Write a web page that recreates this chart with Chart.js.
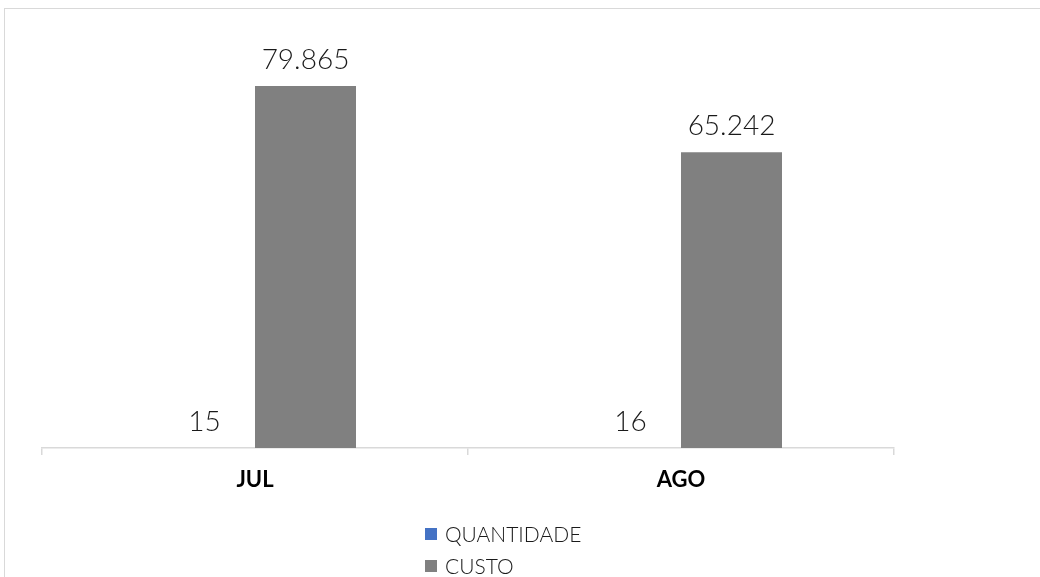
<!DOCTYPE html>
<html>
<head>
<meta charset="utf-8">
<script src="https://cdn.jsdelivr.net/npm/chart.js@4.4.1/dist/chart.umd.min.js"></script>
<style>
  html, body { margin: 0; padding: 0; width: 1040px; height: 577px; overflow: hidden; background: #fff; }
  #frame { position: absolute; left: 4px; top: 8px; width: 1100px; height: 700px; border: 1px solid #d9d9d9; box-sizing: border-box; }
  #wrap { position: absolute; left: 0; top: 0; width: 1040px; height: 577px; }
  #legend { position: absolute; left: 425px; top: 520px; font-family: Lato, sans-serif; font-weight: 300; font-size: 21px; color: #1a1a1a; }
  .item { position: relative; height: 32px; line-height: 28px; padding-left: 20px; white-space: nowrap; }
  .sw { position: absolute; left: 0; top: 8px; width: 12px; height: 12px; }
</style>
</head>
<body>
<div id="frame"></div>
<div id="wrap"><canvas id="c" width="1040" height="577"></canvas></div>
<div id="legend"></div>
<script>
const categories = ['JUL', 'AGO'];
const seriesNames = ['QUANTIDADE', 'CUSTO'];
const quantidade = [15, 16];
const custo = [79865, 65242];
const seriesColors = ['#4472C4', '#808080'];
const yMax = 90000;

function fmt(v) {
  return String(v).replace(/\B(?=(\d{3})+(?!\d))/g, '.');
}

const valueLabels = {
  id: 'valueLabels',
  afterDatasetsDraw(chart) {
    const ctx = chart.ctx;
    ctx.save();
    ctx.font = '300 28px Lato, sans-serif';
    ctx.fillStyle = '#1a1a1a';
    ctx.textAlign = 'center';
    ctx.textBaseline = 'middle';
    chart.data.datasets.forEach((ds, i) => {
      const meta = chart.getDatasetMeta(i);
      meta.data.forEach((bar, j) => {
        ctx.fillText(fmt(ds.data[j]), bar.x, bar.y - 26);
      });
    });
    ctx.restore();
  }
};

const chart = new Chart(document.getElementById('c'), {
  type: 'bar',
  data: {
    labels: categories,
    datasets: [
      { label: seriesNames[0], data: quantidade, backgroundColor: seriesColors[0] },
      { label: seriesNames[1], data: custo, backgroundColor: seriesColors[1] }
    ]
  },
  options: {
    responsive: false,
    animation: false,
    events: [],
    layout: { padding: { left: 42, right: 146, top: 40, bottom: 0 } },
    datasets: { bar: { categoryPercentage: 0.4742, barPercentage: 1.0 } },
    plugins: { legend: { display: false }, tooltip: { enabled: false } },
    scales: {
      x: {
        grid: { drawOnChartArea: false, drawTicks: true, tickLength: 7, color: '#d9d9d9', lineWidth: 1.5, offset: true },
        border: { color: '#d9d9d9', width: 1.5 },
        ticks: { color: '#000', font: { family: 'Lato, sans-serif', size: 22, weight: 'bold' }, padding: 12 },
        afterFit(scale) { scale.height = 129; }
      },
      y: { display: false, min: 0, max: yMax }
    }
  },
  plugins: [valueLabels]
});

const leg = document.getElementById('legend');
seriesNames.forEach((n, i) => {
  const d = document.createElement('div');
  d.className = 'item';
  const s = document.createElement('span');
  s.className = 'sw';
  s.style.background = seriesColors[i];
  d.appendChild(s);
  d.appendChild(document.createTextNode(n));
  leg.appendChild(d);
});
</script>
</body>
</html>
